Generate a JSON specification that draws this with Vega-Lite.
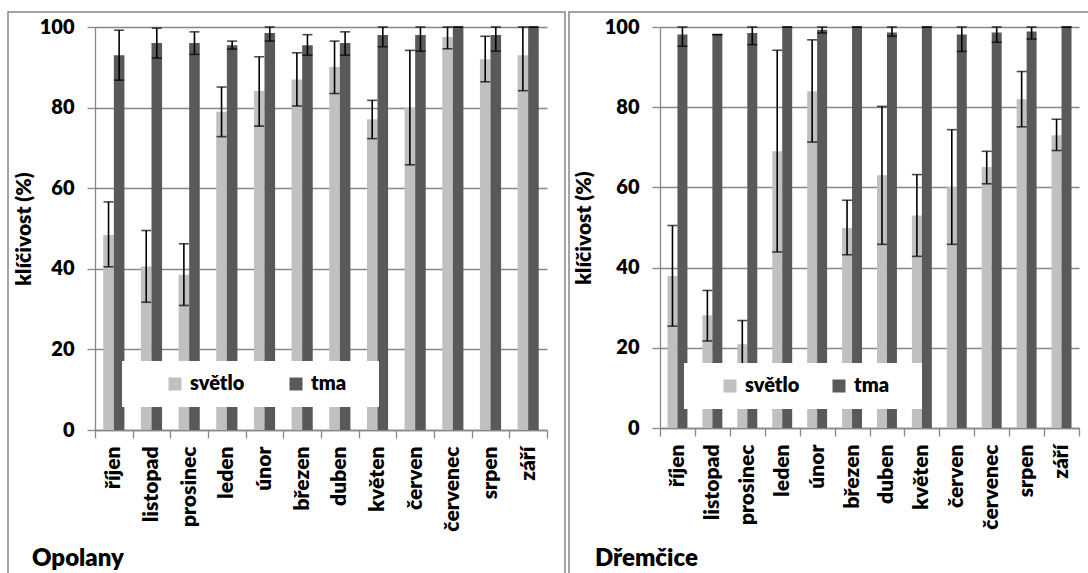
{
  "$schema": "https://vega.github.io/schema/vega-lite/v6.json",
  "background": "white",
  "bounds": "flush",
  "padding": {"left": -4, "top": 11, "right": 0, "bottom": 0},
  "datasets": {
    "germ": [
      {"site": "Opolany", "month": "říjen", "cond": "světlo", "value": 48.4, "lo": 40.5, "hi": 56.6},
      {"site": "Opolany", "month": "říjen", "cond": "tma", "value": 93.0, "lo": 86.8, "hi": 99.2},
      {"site": "Opolany", "month": "listopad", "cond": "světlo", "value": 40.6, "lo": 31.7, "hi": 49.5},
      {"site": "Opolany", "month": "listopad", "cond": "tma", "value": 96.0, "lo": 92.3, "hi": 99.7},
      {"site": "Opolany", "month": "prosinec", "cond": "světlo", "value": 38.5, "lo": 30.9, "hi": 46.2},
      {"site": "Opolany", "month": "prosinec", "cond": "tma", "value": 96.0, "lo": 93.2, "hi": 98.8},
      {"site": "Opolany", "month": "leden", "cond": "světlo", "value": 79.0, "lo": 72.8, "hi": 85.1},
      {"site": "Opolany", "month": "leden", "cond": "tma", "value": 95.5, "lo": 94.5, "hi": 96.5},
      {"site": "Opolany", "month": "únor", "cond": "světlo", "value": 84.1, "lo": 75.4, "hi": 92.6},
      {"site": "Opolany", "month": "únor", "cond": "tma", "value": 98.5, "lo": 96.5, "hi": 100},
      {"site": "Opolany", "month": "březen", "cond": "světlo", "value": 87.0, "lo": 80.4, "hi": 93.6},
      {"site": "Opolany", "month": "březen", "cond": "tma", "value": 95.5, "lo": 93.0, "hi": 98.1},
      {"site": "Opolany", "month": "duben", "cond": "světlo", "value": 90.1, "lo": 83.5, "hi": 96.5},
      {"site": "Opolany", "month": "duben", "cond": "tma", "value": 96.0, "lo": 93.0, "hi": 98.8},
      {"site": "Opolany", "month": "květen", "cond": "světlo", "value": 77.1, "lo": 72.3, "hi": 81.8},
      {"site": "Opolany", "month": "květen", "cond": "tma", "value": 98.0, "lo": 95.1, "hi": 100},
      {"site": "Opolany", "month": "červen", "cond": "světlo", "value": 80.0, "lo": 65.8, "hi": 94.2},
      {"site": "Opolany", "month": "červen", "cond": "tma", "value": 98.0, "lo": 94.0, "hi": 100},
      {"site": "Opolany", "month": "červenec", "cond": "světlo", "value": 97.5, "lo": 94.6, "hi": 100},
      {"site": "Opolany", "month": "červenec", "cond": "tma", "value": 100, "lo": 100, "hi": 100},
      {"site": "Opolany", "month": "srpen", "cond": "světlo", "value": 92.0, "lo": 86.4, "hi": 97.7},
      {"site": "Opolany", "month": "srpen", "cond": "tma", "value": 98.0, "lo": 94.0, "hi": 100},
      {"site": "Opolany", "month": "září", "cond": "světlo", "value": 93.0, "lo": 84.2, "hi": 100},
      {"site": "Opolany", "month": "září", "cond": "tma", "value": 100, "lo": 100, "hi": 100},
      {"site": "Dřemčice", "month": "říjen", "cond": "světlo", "value": 37.9, "lo": 25.4, "hi": 50.5},
      {"site": "Dřemčice", "month": "říjen", "cond": "tma", "value": 98.1, "lo": 95.2, "hi": 100},
      {"site": "Dřemčice", "month": "listopad", "cond": "světlo", "value": 28.1, "lo": 21.7, "hi": 34.3},
      {"site": "Dřemčice", "month": "listopad", "cond": "tma", "value": 98.1, "lo": 98.1, "hi": 98.1},
      {"site": "Dřemčice", "month": "prosinec", "cond": "světlo", "value": 20.9, "lo": 15.0, "hi": 26.8},
      {"site": "Dřemčice", "month": "prosinec", "cond": "tma", "value": 98.5, "lo": 95.6, "hi": 100},
      {"site": "Dřemčice", "month": "leden", "cond": "světlo", "value": 69.0, "lo": 43.9, "hi": 94.2},
      {"site": "Dřemčice", "month": "leden", "cond": "tma", "value": 100, "lo": 100, "hi": 100},
      {"site": "Dřemčice", "month": "únor", "cond": "světlo", "value": 84.0, "lo": 71.3, "hi": 96.8},
      {"site": "Dřemčice", "month": "únor", "cond": "tma", "value": 99.3, "lo": 98.5, "hi": 100},
      {"site": "Dřemčice", "month": "březen", "cond": "světlo", "value": 49.9, "lo": 43.2, "hi": 56.8},
      {"site": "Dřemčice", "month": "březen", "cond": "tma", "value": 100, "lo": 100, "hi": 100},
      {"site": "Dřemčice", "month": "duben", "cond": "světlo", "value": 63.0, "lo": 45.8, "hi": 80.2},
      {"site": "Dřemčice", "month": "duben", "cond": "tma", "value": 98.6, "lo": 97.7, "hi": 100},
      {"site": "Dřemčice", "month": "květen", "cond": "světlo", "value": 53.0, "lo": 42.8, "hi": 63.2},
      {"site": "Dřemčice", "month": "květen", "cond": "tma", "value": 100, "lo": 100, "hi": 100},
      {"site": "Dřemčice", "month": "červen", "cond": "světlo", "value": 60.1, "lo": 45.8, "hi": 74.4},
      {"site": "Dřemčice", "month": "červen", "cond": "tma", "value": 98.1, "lo": 93.9, "hi": 100},
      {"site": "Dřemčice", "month": "červenec", "cond": "světlo", "value": 65.1, "lo": 60.9, "hi": 69.0},
      {"site": "Dřemčice", "month": "červenec", "cond": "tma", "value": 98.6, "lo": 96.2, "hi": 100},
      {"site": "Dřemčice", "month": "srpen", "cond": "světlo", "value": 82.0, "lo": 75.1, "hi": 88.9},
      {"site": "Dřemčice", "month": "srpen", "cond": "tma", "value": 98.9, "lo": 97.0, "hi": 100},
      {"site": "Dřemčice", "month": "září", "cond": "světlo", "value": 73.0, "lo": 69.2, "hi": 77.0},
      {"site": "Dřemčice", "month": "září", "cond": "tma", "value": 100, "lo": 100, "hi": 100}
    ]
  },
  "config": {
    "font": "Lato",
    "concat": {"spacing": 4},
    "axis": {
      "labelFont": "Lato",
      "labelFontWeight": 800,
      "labelColor": "black",
      "titleFont": "Lato",
      "titleFontWeight": 800,
      "titleColor": "black",
      "domainColor": "#878787",
      "tickColor": "#878787",
      "gridColor": "#878787",
      "domainWidth": 1.3,
      "tickWidth": 1.3,
      "gridWidth": 1.3
    },
    "axisY": {
      "grid": true,
      "tickSize": 8,
      "labelPadding": 13,
      "labelFontSize": 20,
      "titleFontSize": 21
    },
    "axisX": {
      "title": null,
      "labelAngle": -90,
      "labelAlign": "right",
      "labelBaseline": "middle",
      "tickBand": "extent",
      "tickSize": 8,
      "labelPadding": 8,
      "labelFontSize": 21,
      "grid": false
    },
    "legend": {
      "orient": "none",
      "direction": "horizontal",
      "symbolType": "square",
      "symbolSize": 169,
      "symbolStrokeWidth": 0,
      "labelFont": "Lato",
      "labelFontWeight": 800,
      "labelFontSize": 20,
      "labelColor": "black",
      "labelOffset": 5,
      "gridAlign": "all",
      "fillColor": "white",
      "padding": 13,
      "titleOrient": "right",
      "titleFontSize": 16
    },
    "title": {
      "font": "Lato",
      "fontWeight": 800,
      "fontSize": 24,
      "color": "black",
      "orient": "bottom",
      "anchor": "start",
      "frame": "group",
      "baseline": "alphabetic",
      "offset": -27
    }
  },
  "resolve": {
    "scale": {"x": "independent", "y": "independent", "xOffset": "independent", "color": "shared"},
    "legend": {"color": "independent"}
  },
  "hconcat": [
    {
      "width": 557,
      "height": 562,
      "title": {"text": "Opolany", "dx": 24},
      "view": {"stroke": "#878787", "strokeWidth": 1.5, "strokeDash": [1119, 557, 600]},
      "data": {"name": "germ"},
      "transform": [{"filter": "datum.site === 'Opolany'"}],
      "encoding": {
        "x": {
          "field": "month", "type": "nominal",
          "sort": ["říjen", "listopad", "prosinec", "leden", "únor", "březen", "duben", "květen", "červen", "červenec", "srpen", "září"],
          "scale": {"paddingInner": 0, "paddingOuter": 0, "range": [87, 539]},
          "axis": {"offset": -144}
        },
        "xOffset": {"field": "cond", "type": "nominal", "sort": ["světlo", "tma"], "scale": {"paddingInner": 0, "paddingOuter": 0.78}}
      },
      "layer": [
        {
          "mark": {"type": "bar"},
          "encoding": {
            "y": {
              "field": "value", "type": "quantitative",
              "scale": {"domain": [0, 100], "range": [418, 15]},
              "axis": {"title": "klíčivost (%)", "titlePadding": 5, "offset": -87, "values": [0, 20, 40, 60, 80, 100]}
            },
            "color": {
              "field": "cond", "type": "nominal",
              "scale": {"domain": ["světlo", "tma"], "range": ["#c0c0c0", "#595959"]},
              "legend": {"title": "\u2003", "legendX": 114, "legendY": 349, "symbolOffset": 30, "columnPadding": 11, "titlePadding": 20}
            }
          }
        },
        {
          "mark": {"type": "rule", "color": "black", "strokeWidth": 1.6},
          "encoding": {
            "y": {"field": "lo", "type": "quantitative", "scale": {"domain": [0, 100]}},
            "y2": {"field": "hi"}
          }
        },
        {
          "mark": {"type": "tick", "color": "black", "thickness": 1.6, "size": 10},
          "encoding": {"y": {"field": "lo", "type": "quantitative", "scale": {"domain": [0, 100]}}}
        },
        {
          "mark": {"type": "tick", "color": "black", "thickness": 1.6, "size": 10},
          "encoding": {"y": {"field": "hi", "type": "quantitative", "scale": {"domain": [0, 100]}}}
        }
      ]
    },
    {
      "width": 519,
      "height": 562,
      "title": {"text": "Dřemčice", "dx": 26},
      "view": {"stroke": "#878787", "strokeWidth": 1.5, "strokeDash": [519, 1081, 600]},
      "data": {"name": "germ"},
      "transform": [{"filter": "datum.site === 'Dřemčice'"}],
      "encoding": {
        "x": {
          "field": "month", "type": "nominal",
          "sort": ["říjen", "listopad", "prosinec", "leden", "únor", "březen", "duben", "květen", "červen", "červenec", "srpen", "září"],
          "scale": {"paddingInner": 0, "paddingOuter": 0, "range": [91, 510]},
          "axis": {"offset": -146}
        },
        "xOffset": {"field": "cond", "type": "nominal", "sort": ["světlo", "tma"], "scale": {"paddingInner": 0, "paddingOuter": 0.75}}
      },
      "layer": [
        {
          "mark": {"type": "bar"},
          "encoding": {
            "y": {
              "field": "value", "type": "quantitative",
              "scale": {"domain": [0, 100], "range": [416, 15]},
              "axis": {"title": "klíčivost (%)", "titlePadding": 10, "offset": -91, "values": [0, 20, 40, 60, 80, 100]}
            },
            "color": {
              "field": "cond", "type": "nominal",
              "scale": {"domain": ["světlo", "tma"], "range": ["#c0c0c0", "#595959"]},
              "legend": {"title": "\u2003", "legendX": 115, "legendY": 351, "symbolOffset": 23, "columnPadding": 6, "titlePadding": 20}
            }
          }
        },
        {
          "mark": {"type": "rule", "color": "black", "strokeWidth": 1.6},
          "encoding": {
            "y": {"field": "lo", "type": "quantitative", "scale": {"domain": [0, 100]}},
            "y2": {"field": "hi"}
          }
        },
        {
          "mark": {"type": "tick", "color": "black", "thickness": 1.6, "size": 10},
          "encoding": {"y": {"field": "lo", "type": "quantitative", "scale": {"domain": [0, 100]}}}
        },
        {
          "mark": {"type": "tick", "color": "black", "thickness": 1.6, "size": 10},
          "encoding": {"y": {"field": "hi", "type": "quantitative", "scale": {"domain": [0, 100]}}}
        }
      ]
    }
  ]
}
